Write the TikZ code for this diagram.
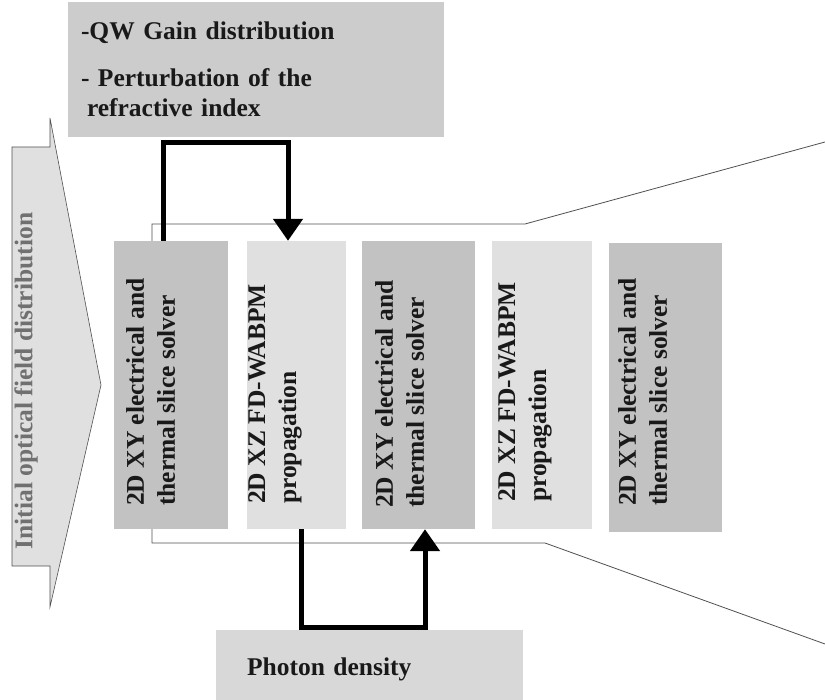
\documentclass[tikz,border=0pt]{standalone}
\usepackage{fontspec}
\setmainfont{Liberation Serif}
\usepackage{tikz}
\usetikzlibrary{arrows.meta,positioning,calc}
\usepackage{xcolor}
\definecolor{xyfill}{RGB}{194,194,194}
\definecolor{xzfill}{RGB}{224,224,224}
\definecolor{gainfill}{RGB}{204,204,204}
\definecolor{photonfill}{RGB}{216,216,216}
\definecolor{inputfill}{RGB}{224,224,224}
\definecolor{textdark}{RGB}{25,25,25}
\definecolor{textgray}{RGB}{112,112,112}
\definecolor{linegray}{RGB}{80,80,80}
\tikzstyle{slicebox} = [rectangle, draw=none, minimum height=288pt, inner sep=0pt]
\tikzstyle{xyslice} = [slicebox, fill=xyfill, minimum width=113pt]
\tikzstyle{xzslice} = [slicebox, fill=xzfill, minimum width=99pt]
\tikzstyle{slicetext} = [rotate=90, anchor=north west, inner sep=0pt, align=left, font=\bfseries\fontsize{25.5}{31}\selectfont, text=textdark]
\tikzstyle{infobox} = [rectangle, draw=none, align=left, font=\bfseries\fontsize{25.5}{30}\selectfont, text=textdark]
\tikzstyle{bigarrow} = [line width=5pt, -{Triangle[width=29pt,length=22pt]}, color=black]
\tikzstyle{zoomline} = [line width=0.8pt, color=linegray]

\begin{document}
\begin{tikzpicture}[x=1pt, y=-1pt]
\useasboundingbox (0,0) rectangle (825,700);

% Top: quantities handed to the propagation
\node[infobox, fill=gainfill, text width=350pt, inner xsep=13pt, minimum height=135pt] (gain) at (256,69.5) {-QW Gain distribution\\[17pt] - Perturbation of the\\ \hspace*{6pt}refractive index};

% Left: input field
\draw[zoomline, line width=0.6pt, fill=inputfill] (12,147) -- (50,147) -- (50,118) -- (101,385) -- (50,607) -- (50,566) -- (12,566) -- cycle;
\node[rotate=90, font=\bfseries\fontsize{25.5}{30}\selectfont, text=textgray, inner sep=0pt] (initial) at (26,381) {Initial optical field distribution};

% Zoomed section outline
\draw[zoomline] (152,241) |- (525,224) -- (825,142);
\draw[zoomline] (152,529) |- (545,543) -- (825,644);

% Slices
\node[xyslice, minimum width=114pt] (s1) at (171,385) {};
\node[xzslice] (s2) at (296.5,385) {};
\node[xyslice] (s3) at (418.5,385) {};
\node[xzslice, minimum width=100pt] (s4) at (542,385) {};
\node[xyslice] (s5) at (665.5,387.5) {};
\node[slicetext] (t1) at (126,506) {2D XY electrical and\\thermal slice solver};
\node[slicetext] (t2) at (248,504) {2D XZ FD-WABPM\\propagation};
\node[slicetext] (t3) at (375,508) {2D XY electrical and\\thermal slice solver};
\node[slicetext] (t4) at (498,502) {2D XZ FD-WABPM\\propagation};
\node[slicetext] (t5) at (618,506) {2D XY electrical and\\thermal slice solver};

% Bottom: photon density
\node[infobox, fill=photonfill, text width=245pt, inner xsep=31pt, minimum height=78pt] (photon) at (369.5,669) {Photon density};

% Arrows
\draw[bigarrow] ([xshift=-8pt]s1.north) |- ([yshift=-5pt]gain.south) -| ([xshift=-8.5pt]s2.north);
\draw[bigarrow] ([xshift=4.5pt]s2.south) |- ([yshift=2pt]photon.north) -| ([xshift=6.5pt]s3.south);
\end{tikzpicture}
\end{document}
